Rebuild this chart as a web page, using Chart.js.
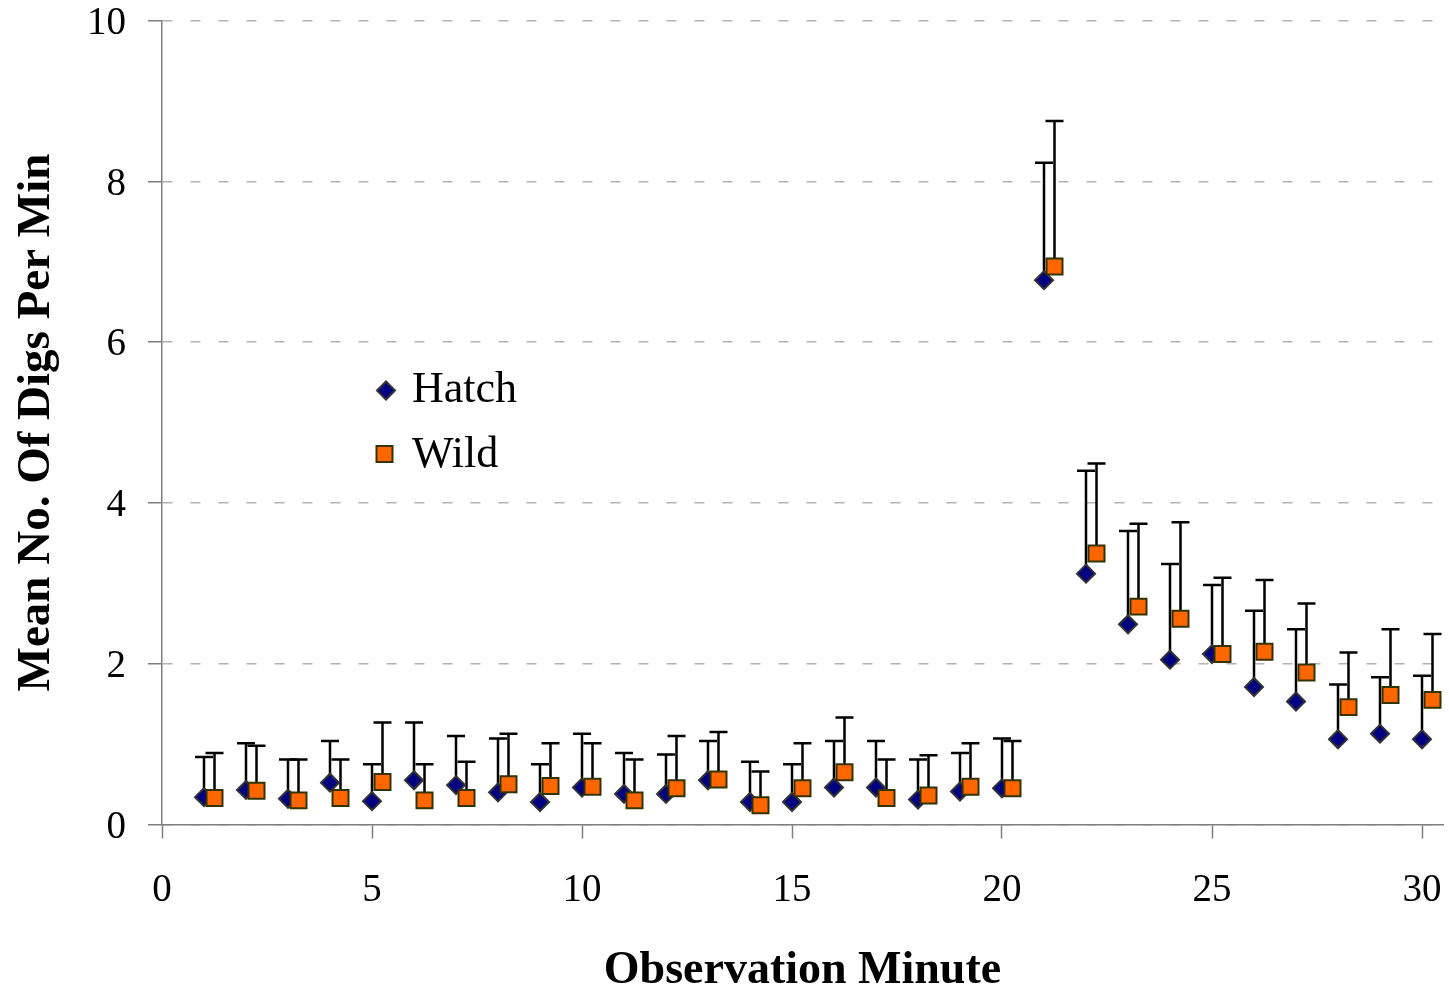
<!DOCTYPE html>
<html>
<head>
<meta charset="utf-8">
<title>Mean No. Of Digs Per Min</title>
<script src="https://cdn.jsdelivr.net/npm/chart.js@4.4.1/dist/chart.umd.min.js"></script>
<style>
  html, body { margin: 0; padding: 0; background: #fff; }
  #wrap { width: 1449px; height: 988px; }
</style>
</head>
<body>
<div id="wrap"><canvas id="digsChart" width="1449" height="988"></canvas></div>
<script>
// observation minutes, 1..30
const minutes = [1, 2, 3, 4, 5, 6, 7, 8, 9, 10, 11, 12, 13, 14, 15,
                 16, 17, 18, 19, 20, 21, 22, 23, 24, 25, 26, 27, 28, 29, 30];
// wild points sit a little to the right of each minute
const wildOffset = 0.25;

// means and top of the (upper-only) error bars
const hatchMean  = [0.34, 0.43, 0.32, 0.52, 0.29, 0.55, 0.49, 0.40, 0.28, 0.46,
                    0.38, 0.38, 0.55, 0.28, 0.28, 0.46, 0.46, 0.31, 0.41, 0.45,
                    6.77, 3.12, 2.49, 2.05, 2.12, 1.71, 1.53, 1.06, 1.13, 1.06];
const hatchUpper = [0.84, 1.01, 0.81, 1.04, 0.75, 1.27, 1.10, 1.07, 0.75, 1.13,
                    0.89, 0.87, 1.04, 0.78, 0.75, 1.04, 1.04, 0.81, 0.89, 1.07,
                    8.23, 4.40, 3.65, 3.24, 2.98, 2.66, 2.43, 1.74, 1.83, 1.85];
const wildMean   = [0.33, 0.42, 0.30, 0.33, 0.53, 0.30, 0.33, 0.50, 0.48, 0.47,
                    0.30, 0.45, 0.56, 0.24, 0.45, 0.65, 0.33, 0.36, 0.47, 0.45,
                    6.94, 3.37, 2.71, 2.56, 2.12, 2.15, 1.89, 1.46, 1.61, 1.55];
const wildUpper  = [0.89, 0.98, 0.81, 0.81, 1.27, 0.75, 0.78, 1.13, 1.01, 1.01,
                    0.81, 1.10, 1.15, 0.66, 1.01, 1.33, 0.81, 0.86, 1.01, 1.04,
                    8.75, 4.49, 3.74, 3.76, 3.07, 3.04, 2.75, 2.14, 2.43, 2.37];

const xTicks = [0, 5, 10, 15, 20, 25, 30];
const yTicks = [0, 2, 4, 6, 8, 10];

const serif = '"Liberation Serif", "Times New Roman", serif';
const axisGray = '#7f7f7f';

// vertical line from the mean up to the upper value, with a cap
const upperErrorBars = {
  id: 'upperErrorBars',
  beforeDatasetsDraw(chart, args, opts) {
    const { ctx } = chart;
    const yScale = chart.scales.y;
    ctx.save();
    ctx.strokeStyle = opts.color;
    ctx.lineWidth = opts.width;
    chart.data.datasets.forEach((ds, di) => {
      const meta = chart.getDatasetMeta(di);
      meta.data.forEach((pt, i) => {
        const top = yScale.getPixelForValue(ds.upper[i]);
        ctx.beginPath();
        ctx.moveTo(pt.x, pt.y);
        ctx.lineTo(pt.x, top);
        ctx.moveTo(pt.x - opts.cap, top);
        ctx.lineTo(pt.x + opts.cap, top);
        ctx.stroke();
      });
    });
    ctx.restore();
  }
};

// legend drawn inside the plot area, like the original
const insetLegend = {
  id: 'insetLegend',
  afterDraw(chart, args, opts) {
    const { ctx } = chart;
    ctx.save();
    ctx.font = opts.font;
    ctx.textBaseline = 'alphabetic';
    chart.data.datasets.forEach((ds, i) => {
      const row = opts.rows[i];
      ctx.fillStyle = ds.pointBackgroundColor;
      ctx.strokeStyle = ds.pointBorderColor;
      ctx.lineWidth = ds.pointBorderWidth;
      Chart.helpers.drawPoint(ctx, {
        pointStyle: ds.pointStyle,
        radius: ds.pointRadius,
        rotation: 0,
        borderWidth: ds.pointBorderWidth
      }, row.x, row.y);
      ctx.fillStyle = '#000';
      ctx.fillText(ds.label, opts.textX, row.baseline);
    });
    ctx.restore();
  }
};

new Chart(document.getElementById('digsChart'), {
  type: 'scatter',
  data: {
    datasets: [
      {
        label: 'Hatch',
        data: minutes.map((m, i) => ({ x: m, y: hatchMean[i] })),
        upper: hatchUpper,
        pointStyle: 'rectRot',
        pointRadius: 9,
        pointHoverRadius: 9,
        pointBackgroundColor: '#000080',
        pointBorderColor: '#333333',
        pointBorderWidth: 2,
        order: 1
      },
      {
        label: 'Wild',
        data: minutes.map((m, i) => ({ x: m + wildOffset, y: wildMean[i] })),
        upper: wildUpper,
        pointStyle: 'rect',
        pointRadius: 11.3,
        pointHoverRadius: 11.3,
        pointBackgroundColor: '#ff6600',
        pointBorderColor: '#333300',
        pointBorderWidth: 2,
        order: 0
      }
    ]
  },
  options: {
    responsive: false,
    animation: false,
    devicePixelRatio: 1,
    layout: { autoPadding: false, padding: { top: 20.5, right: 6, left: 0, bottom: 0 } },
    plugins: {
      legend: { display: false },
      tooltip: { enabled: false },
      upperErrorBars: { color: '#000', width: 2.5, cap: 9 },
      insetLegend: {
        font: '44px ' + serif,
        textX: 412,
        rows: [
          { x: 386, y: 390.5, baseline: 401.5 },
          { x: 384.5, y: 454, baseline: 467 }
        ]
      }
    },
    scales: {
      x: {
        type: 'linear',
        min: 0,
        max: 30.5,
        afterBuildTicks: s => { s.ticks = xTicks.map(v => ({ value: v })); },
        afterFit: s => { s.height = 163.5; s.paddingLeft = 0; s.paddingRight = 0; },
        grid: {
          drawOnChartArea: false,
          drawTicks: true,
          tickLength: 14,
          tickColor: axisGray,
          tickWidth: 1.5
        },
        border: { color: axisGray, width: 1.5 },
        ticks: {
          color: '#000',
          // tall line box keeps the label low without a big tick padding
          font: { family: serif, size: 39, lineHeight: 2.6 },
          padding: 2,
          maxRotation: 0,
          autoSkip: false
        },
        title: {
          display: true,
          text: 'Observation Minute',
          color: '#000',
          font: { family: serif, size: 46, weight: 'bold', lineHeight: 1 },
          padding: { top: 0, bottom: -6 }
        }
      },
      y: {
        min: 0,
        max: 10,
        afterBuildTicks: s => { s.ticks = yTicks.map(v => ({ value: v })); },
        afterFit: s => { s.width = 162; s.paddingTop = 0; s.paddingBottom = 0; },
        grid: {
          color: '#b3b3b3',
          lineWidth: 1.5,
          tickLength: 14,
          tickColor: axisGray,
          tickWidth: 1.5,
          tickBorderDash: []
        },
        border: { color: axisGray, width: 1.5, dash: [10, 18] },
        ticks: {
          color: '#000',
          font: { family: serif, size: 39 },
          padding: 22,
          labelOffset: 3,
          autoSkip: false
        },
        title: {
          display: true,
          text: 'Mean No. Of Digs Per Min',
          color: '#000',
          font: { family: serif, size: 47, weight: 'bold', lineHeight: 1 },
          padding: { top: 13, bottom: 0 }
        }
      }
    }
  },
  plugins: [upperErrorBars, insetLegend]
});
</script>
</body>
</html>
